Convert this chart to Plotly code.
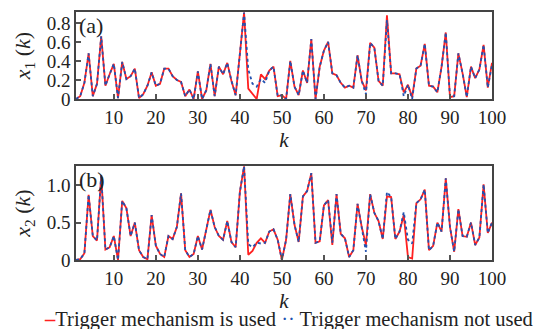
import plotly.graph_objects as go

# time steps
k = list(range(1, 101))

# state x1: with event trigger / without trigger
x1_trig = [0.00, 0.03, 0.17, 0.48, 0.03, 0.16, 0.66, 0.14, 0.26, 0.37,
           0.01, 0.39, 0.21, 0.24, 0.32, 0.01, 0.05, 0.14, 0.28, 0.14,
           0.16, 0.32, 0.32, 0.24, 0.20, 0.18, 0.03, 0.10, 0.00, 0.29,
           0.00, 0.09, 0.37, 0.03, 0.34, 0.26, 0.38, 0.19, 0.04, 0.48,
           0.91, 0.11, 0.05, 0.00, 0.26, 0.21, 0.30, 0.34, 0.03, 0.04,
           0.00, 0.40, 0.13, 0.04, 0.30, 0.17, 0.63, 0.00, 0.34, 0.51,
           0.60, 0.27, 0.25, 0.17, 0.12, 0.14, 0.12, 0.46, 0.19, 0.09,
           0.59, 0.54, 0.19, 0.14, 0.88, 0.27, 0.27, 0.26, 0.07, 0.15,
           0.02, 0.32, 0.35, 0.58, 0.14, 0.13, 0.07, 0.34, 0.70, 0.02,
           0.03, 0.48, 0.27, 0.02, 0.34, 0.22, 0.31, 0.57, 0.12, 0.38]
x1_free = [0.00, 0.03, 0.17, 0.48, 0.03, 0.16, 0.66, 0.14, 0.26, 0.37,
           0.01, 0.39, 0.21, 0.24, 0.32, 0.01, 0.05, 0.14, 0.28, 0.14,
           0.16, 0.32, 0.32, 0.24, 0.20, 0.18, 0.03, 0.10, 0.00, 0.29,
           0.00, 0.09, 0.37, 0.03, 0.34, 0.26, 0.38, 0.19, 0.04, 0.48,
           0.91, 0.31, 0.16, 0.13, 0.21, 0.17, 0.30, 0.34, 0.03, 0.04,
           0.00, 0.40, 0.13, 0.04, 0.30, 0.17, 0.63, 0.00, 0.34, 0.51,
           0.60, 0.27, 0.25, 0.17, 0.12, 0.14, 0.12, 0.46, 0.19, 0.05,
           0.59, 0.54, 0.19, 0.14, 0.83, 0.27, 0.27, 0.26, 0.03, 0.15,
           0.00, 0.32, 0.35, 0.58, 0.14, 0.13, 0.07, 0.34, 0.70, 0.02,
           0.03, 0.48, 0.27, 0.02, 0.34, 0.22, 0.31, 0.57, 0.12, 0.36]

# state x2: with event trigger / without trigger
x2_trig = [0.00, 0.01, 0.09, 0.87, 0.32, 0.26, 1.13, 0.14, 0.17, 0.32,
           0.00, 0.79, 0.69, 0.32, 0.50, 0.13, 0.04, 0.01, 0.60, 0.19,
           0.08, 0.04, 0.32, 0.28, 0.44, 0.89, 0.13, 0.04, 0.08, 0.32,
           0.14, 0.40, 0.67, 0.44, 0.32, 0.27, 0.52, 0.24, 0.17, 0.91,
           1.25, 0.07, 0.12, 0.23, 0.29, 0.23, 0.38, 0.41, 0.27, 0.00,
           0.27, 0.88, 0.47, 0.24, 0.85, 0.92, 1.16, 0.23, 0.25, 0.73,
           0.80, 0.20, 0.88, 0.35, 0.29, 0.04, 0.13, 0.75, 0.44, 0.20,
           0.88, 0.63, 0.52, 0.28, 0.85, 0.84, 0.28, 0.38, 0.60, 0.04,
           0.02, 0.76, 0.81, 0.94, 0.13, 0.19, 0.50, 0.38, 1.09, 0.44,
           0.11, 0.68, 0.32, 0.31, 0.50, 0.20, 0.30, 1.01, 0.36, 0.50]
x2_free = [0.00, 0.01, 0.09, 0.87, 0.32, 0.26, 1.13, 0.14, 0.17, 0.32,
           0.00, 0.79, 0.69, 0.32, 0.50, 0.13, 0.04, 0.01, 0.60, 0.19,
           0.08, 0.04, 0.32, 0.28, 0.44, 0.89, 0.13, 0.04, 0.08, 0.32,
           0.14, 0.40, 0.67, 0.44, 0.32, 0.27, 0.52, 0.24, 0.17, 0.91,
           1.25, 0.21, 0.17, 0.23, 0.22, 0.23, 0.38, 0.41, 0.27, 0.00,
           0.27, 0.88, 0.47, 0.24, 0.85, 0.92, 1.16, 0.23, 0.25, 0.73,
           0.80, 0.23, 0.88, 0.35, 0.29, 0.04, 0.13, 0.75, 0.44, 0.11,
           0.88, 0.63, 0.52, 0.28, 0.91, 0.84, 0.28, 0.38, 0.64, 0.27,
           0.22, 0.76, 0.81, 0.94, 0.13, 0.19, 0.50, 0.38, 1.09, 0.44,
           0.11, 0.68, 0.32, 0.31, 0.50, 0.20, 0.30, 1.01, 0.36, 0.50]

x_ticks = [10, 20, 30, 40, 50, 60, 70, 80, 90, 100]
y1_ticks = [0, 0.2, 0.4, 0.6, 0.8]
y1_labels = ["0", "0.2", "0.4", "0.6", "0.8"]
y2_ticks = [0, 0.5, 1.0]
y2_labels = ["0", "0.5", "1.0"]

RED = "#ff2020"
BLUE = "#2251b0"
FONT = "Liberation Serif"
INK = "#222"
W, H = 536, 329

fig = go.Figure()
for xa, ya, trig, free in (("x", "y", x1_trig, x1_free), ("x2", "y2", x2_trig, x2_free)):
    fig.add_trace(go.Scatter(x=k, y=trig, xaxis=xa, yaxis=ya, mode="lines",
                             line=dict(color=RED, width=1.8), showlegend=False))
    fig.add_trace(go.Scatter(x=k, y=free, xaxis=xa, yaxis=ya, mode="lines",
                             line=dict(color=BLUE, width=1.8, dash="dot"),
                             showlegend=False))

xdom = [76 / W, 492 / W]
common_x = dict(range=[1, 100], tickvals=x_ticks, ticks="inside", ticklen=5,
                tickwidth=1.5, tickcolor="#555", showline=True, mirror=True,
                linecolor="#444", linewidth=1.5, showgrid=False, zeroline=False,
                tickfont=dict(family=FONT, size=19, color=INK),
                title=dict(text="<i>k</i>", font=dict(family=FONT, size=21, color=INK),
                           standoff=0),
                automargin=False, domain=xdom)
common_y = dict(ticks="inside", ticklen=5, tickwidth=1.5, tickcolor="#555",
                showline=True, mirror=True, linecolor="#444", linewidth=1.5,
                showgrid=False, zeroline=False,
                tickfont=dict(family=FONT, size=19, color=INK),
                automargin=False)

fig.update_layout(
    width=W, height=H, margin=dict(l=0, r=0, t=0, b=0),
    paper_bgcolor="white", plot_bgcolor="white",
    xaxis=dict(common_x, anchor="y"),
    xaxis2=dict(common_x, anchor="y2"),
    yaxis=dict(common_y, anchor="x", range=[0, 0.915], tickvals=y1_ticks,
               ticktext=y1_labels, domain=[1 - 99 / H, 1 - 12 / H],
               title=dict(text="<i>x</i><sub>1</sub> (<i>k</i>)",
                          font=dict(family=FONT, size=22, color=INK), standoff=10)),
    yaxis2=dict(common_y, anchor="x2", range=[0, 1.255], tickvals=y2_ticks,
                ticktext=y2_labels, domain=[1 - 260 / H, 1 - 166 / H],
                title=dict(text="<i>x</i><sub>2</sub> (<i>k</i>)",
                           font=dict(family=FONT, size=22, color=INK), standoff=10)),
    showlegend=False,
)

# panel tags
for tag, ytop in (("(a)", 1 - 11 / H), ("(b)", 1 - 165 / H)):
    fig.add_annotation(text=tag, xref="paper", yref="paper", x=77 / W, y=ytop,
                       xanchor="left", yanchor="top", showarrow=False,
                       font=dict(family=FONT, size=22, color=INK))

# series key along the bottom
fig.add_annotation(
    text=(f'<span style="color:{RED}"><b>–</b></span>Trigger mechanism is used '
          f'<span style="color:{BLUE}">··</span> Trigger mechanism not used'),
    xref="paper", yref="paper", x=288 / W, y=1 - 319 / H,
    xanchor="center", yanchor="middle", showarrow=False,
    font=dict(family=FONT, size=20.5, color=INK))

fig.write_html("out.html")
